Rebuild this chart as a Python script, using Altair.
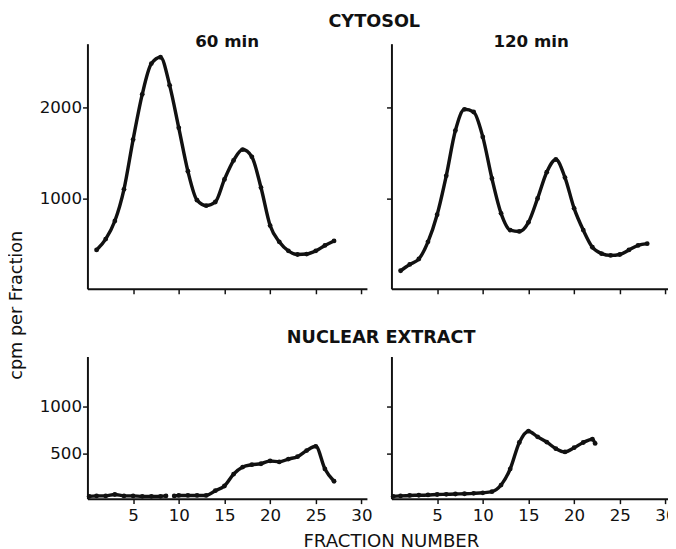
import altair as alt
import pandas as pd

# ---- data ----
# Cytosol, 60 min
cyt60_frac = list(range(1, 28))
cyt60_cpm = [430, 550, 750, 1100, 1650, 2150, 2490, 2560, 2250, 1780, 1300, 980, 920, 960,
             1210, 1420, 1540, 1460, 1120, 700, 520, 420, 380, 385, 420, 480, 530]
# Cytosol, 120 min
cyt120_frac = list(range(1, 29))
cyt120_cpm = [200, 270, 330, 520, 820, 1250, 1750, 1985, 1955, 1680, 1220, 835, 650, 635,
              735, 1000, 1290, 1430, 1230, 890, 650, 460, 390, 370, 380, 430, 480, 500]
# Nuclear extract, 60 min (two drawn segments)
nuc60_frac_a = [0.2, 1, 2, 3, 4, 5, 6, 7, 8, 8.6]
nuc60_cpm_a = [50, 55, 55, 70, 55, 55, 50, 50, 50, 55]
nuc60_frac_b = [9.5, 10, 11, 12, 13, 14, 15, 16, 17, 18, 19, 20, 21, 22, 23, 24, 25, 26, 27]
nuc60_cpm_b = [55, 60, 60, 60, 60, 110, 160, 285, 360, 385, 395, 425, 415, 445, 470, 535, 580, 340, 210]
# Nuclear extract, 120 min
nuc120_frac = [0.2, 1, 2, 3, 4, 5, 6, 7, 8, 9, 10, 11, 12, 13, 14, 15, 16, 17, 18, 19, 20, 21, 22, 22.3]
nuc120_cpm = [50, 55, 60, 62, 65, 70, 72, 75, 78, 82, 88, 100, 170, 340, 620, 740, 680, 625,
              555, 520, 565, 620, 655, 610]

x_ticks = [5, 10, 15, 20, 25, 30]
top_y_ticks = [1000, 2000]
bot_y_ticks = [500, 1000]
x_domain = [0, 30.6]
top_y_domain = [0, 2710]
bot_y_domain = [25, 1530]

FONT = "DejaVu Sans"
INK = "#111111"


def frame(xs, ys, seg="a"):
    return pd.DataFrame({"frac": xs, "cpm": ys, "seg": seg})


def panel(df, w, h, ydom, yvals, show_xlabels, show_ylabels, title=None):
    # top-row x labels are kept (invisible) so both rows lay out identically
    x = alt.X("frac:Q", scale=alt.Scale(domain=x_domain, nice=False, zero=False),
              axis=alt.Axis(values=x_ticks, labels=True, labelOpacity=1 if show_xlabels else 0,
                            title=None, format="d", labelPadding=4))
    y = alt.Y("cpm:Q", scale=alt.Scale(domain=ydom, nice=False, zero=False),
              axis=alt.Axis(values=yvals, labels=show_ylabels, title=None, format="d",
                            labelPadding=1))
    line = alt.Chart(df).mark_line(color=INK, strokeWidth=3.5, interpolate="monotone").encode(
        x=x, y=y, detail="seg:N")
    pts = alt.Chart(df).mark_circle(color=INK, size=24, opacity=1).encode(x=x, y=y)
    props = dict(width=w, height=h)
    if title:
        props["title"] = alt.TitleParams(text=title, font=FONT, fontSize=17, fontWeight="bold",
                                         baseline="middle", offset=-15.5, color=INK)
    return alt.layer(line, pts).properties(**props)


tl = panel(frame(cyt60_frac, cyt60_cpm), 285, 250, top_y_domain, top_y_ticks, False, True, "60 min")
tr = panel(frame(cyt120_frac, cyt120_cpm), 285, 250, top_y_domain, top_y_ticks, False, False, "120 min")
bl = panel(pd.concat([frame(nuc60_frac_a, nuc60_cpm_a, "a"), frame(nuc60_frac_b, nuc60_cpm_b, "b")]),
           285, 145, bot_y_domain, bot_y_ticks, True, True)
br = panel(frame(nuc120_frac, nuc120_cpm), 285, 145, bot_y_domain, bot_y_ticks, True, False)

top = alt.hconcat(tl, tr, spacing=13, title=alt.TitleParams(
    text="CYTOSOL", font=FONT, fontSize=18, fontWeight="bold", anchor="middle", offset=-3,
    dx=17, dy=-6, color=INK))
bottom = alt.hconcat(bl, br, spacing=13, title=alt.TitleParams(
    text="NUCLEAR EXTRACT", font=FONT, fontSize=18, fontWeight="bold", anchor="middle", offset=10,
    dx=24, color=INK))

inner = alt.vconcat(top, bottom, spacing=16, title=alt.TitleParams(
    text="cpm per Fraction", orient="left", font=FONT, fontSize=18, fontWeight="normal",
    anchor="middle", offset=13, dx=-38, color=INK))

chart = alt.vconcat(inner, title=alt.TitleParams(
    text="FRACTION NUMBER", orient="bottom", font=FONT, fontSize=18.5, fontWeight="normal",
    anchor="middle", offset=9, dx=50, color=INK)).properties(
    padding={"left": 0, "top": -1, "right": -9, "bottom": 0}
).configure_view(stroke=None).configure_axis(
    grid=False, domainColor=INK, domainWidth=2, tickColor=INK, tickWidth=1.5, tickSize=5,
    labelFont=FONT, labelFontSize=17, labelColor=INK
).configure_concat(spacing=15)

chart.save("out.html", embed_options={"renderer": "svg", "actions": False})
